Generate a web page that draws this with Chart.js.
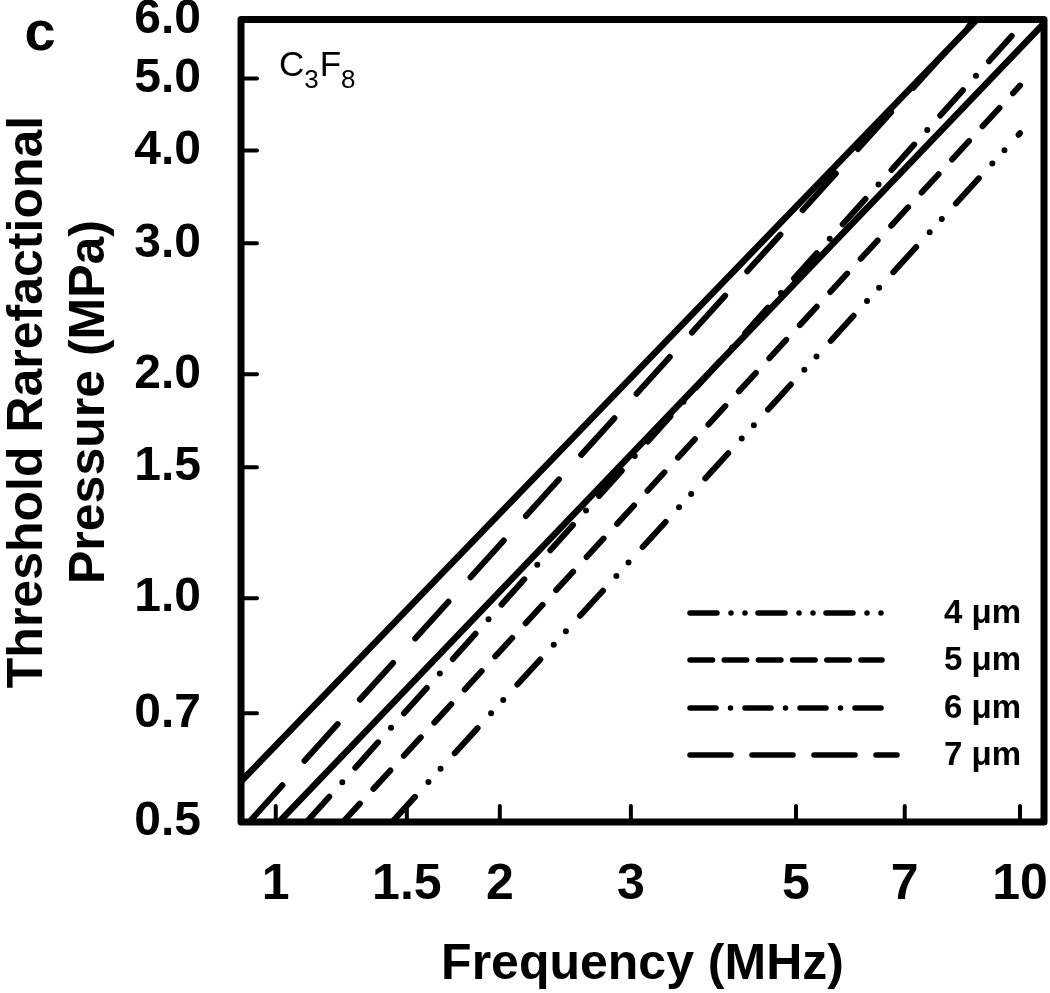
<!DOCTYPE html>
<html>
<head>
<meta charset="utf-8">
<script src="https://cdn.jsdelivr.net/npm/chart.js@4.4.0/dist/chart.umd.min.js"></script>
<style>
    html, body { margin: 0; padding: 0; background: #fff; }
    #wrap { width: 1050px; height: 993px; position: relative; }
</style>
</head>
<body>
<div id="wrap"><canvas id="chart"></canvas></div>
<script>
// Threshold rarefactional pressure vs. frequency for C3F8 bubbles (log-log)
const FONT = '"Liberation Sans", Arial, Helvetica, sans-serif';

const freqTicks = [1, 1.5, 2, 3, 5, 7, 10];
const pressureTicks = [0.5, 0.7, 1.0, 1.5, 2.0, 3.0, 4.0, 5.0, 6.0];

// two unlabelled solid curves
const solidUpperFreq = [0.898, 8.75];
const solidUpperPressure = [0.567, 6.0];
const solidLowerFreq = [1.01, 10.77];
const solidLowerPressure = [0.5, 5.93];

// bubble diameters (legend)
const diameterLabels = ['4 μm', '5 μm', '6 μm', '7 μm'];
const freq4um = [1.433, 10];
const pressure4um = [0.5, 4.22];
const freq5um = [1.231, 10];
const pressure5um = [0.5, 4.89];
const freq6um = [1.10, 10];
const pressure6um = [0.5, 5.87];
const freq7um = [0.921, 8.7];
const pressure7um = [0.5, 6.0];

// line patterns: in the plot and in the legend sample
const PLOT_DASH = {
    '4 μm': [34, 20, 0, 18, 0, 21],
    '5 μm': [25, 20],
    '6 μm': [34, 19.5, 0, 19.5],
    '7 μm': [49.5, 33]
};
const LEGEND_DASH = {
    '4 μm': [27, 14, 0, 14, 0, 13],
    '5 μm': [22.5, 11.7],
    '6 μm': [26, 14.5, 0, 14.5],
    '7 μm': [41, 21]
};

function toPoints(freqs, pressures) {
    return freqs.map((f, i) => ({ x: f, y: pressures[i] }));
}

const diameterData = [
    toPoints(freq4um, pressure4um),
    toPoints(freq5um, pressure5um),
    toPoints(freq6um, pressure6um),
    toPoints(freq7um, pressure7um)
];

const datasets = [
    { label: 'solid upper', data: toPoints(solidUpperFreq, solidUpperPressure), borderWidth: 6.5, borderDash: [] },
    { label: 'solid lower', data: toPoints(solidLowerFreq, solidLowerPressure), borderWidth: 6.5, borderDash: [] },
    ...diameterLabels.map((label, i) => ({
        label,
        data: diameterData[i],
        borderWidth: 6,
        borderDash: PLOT_DASH[label]
    }))
];

const panelDecor = {
    id: 'panelDecor',
    afterDraw(chart) {
        const { ctx, chartArea: a, scales: { x, y } } = chart;
        ctx.save();
        ctx.strokeStyle = '#000';
        ctx.fillStyle = '#000';

        // inward tick marks on left and bottom
        ctx.lineWidth = 4;
        ctx.lineCap = 'round';
        ctx.beginPath();
        pressureTicks.forEach(v => {
            const py = y.getPixelForValue(v);
            if (py > a.top + 5 && py < a.bottom - 5) {
                ctx.moveTo(a.left, py);
                ctx.lineTo(a.left + 16, py);
            }
        });
        freqTicks.forEach(v => {
            const px = x.getPixelForValue(v);
            if (px > a.left + 5 && px < a.right - 5) {
                ctx.moveTo(px, a.bottom);
                ctx.lineTo(px, a.bottom - 16);
            }
        });
        ctx.stroke();

        // frame
        ctx.lineWidth = 7;
        ctx.lineJoin = 'round';
        ctx.strokeRect(a.left, a.top, a.right - a.left, a.bottom - a.top);

        // legend inside the plot
        const legendRows = [613, 660, 708, 755];
        const sampleEnd = [882, 882, 882, 897];
        ctx.lineWidth = 5.5;
        ctx.lineCap = 'round';
        diameterLabels.forEach((label, i) => {
            ctx.setLineDash(LEGEND_DASH[label]);
            ctx.beginPath();
            ctx.moveTo(690, legendRows[i]);
            ctx.lineTo(sampleEnd[i], legendRows[i]);
            ctx.stroke();
        });
        ctx.setLineDash([]);
        ctx.font = 'bold 33px ' + FONT;
        ctx.textAlign = 'left';
        ctx.textBaseline = 'middle';
        diameterLabels.forEach((label, i) => {
            ctx.fillText(label, 944, legendRows[i] + 1);
        });

        // gas annotation C3F8
        ctx.textBaseline = 'alphabetic';
        let cx = 279;
        const parts = [['C', false], ['3', true], ['F', false], ['8', true]];
        parts.forEach(([t, sub]) => {
            ctx.font = (sub ? '26px ' : '35px ') + FONT;
            ctx.fillText(t, cx, sub ? 88 : 76);
            cx += ctx.measureText(t).width + (sub ? 1 : 0);
        });

        // panel letter
        ctx.font = 'bold 56px ' + FONT;
        ctx.textAlign = 'center';
        ctx.fillText('c', 40, 50);

        // y-axis title, two lines rotated
        ctx.font = 'bold 50px ' + FONT;
        ctx.translate(0, 402);
        ctx.rotate(-Math.PI / 2);
        ctx.fillText('Threshold Rarefactional', 0, 42);
        ctx.fillText('Pressure (MPa)', 0, 104);
        ctx.restore();
    }
};

new Chart(document.getElementById('chart'), {
    type: 'line',
    data: { datasets },
    options: {
        responsive: true,
        maintainAspectRatio: false,
        animation: false,
        layout: { padding: { top: 19.5, right: 6, left: 0, bottom: 0 } },
        elements: {
            point: { radius: 0 },
            line: { borderColor: '#000', tension: 0, borderCapStyle: 'round', borderJoinStyle: 'round' }
        },
        plugins: {
            legend: { display: false },
            tooltip: { enabled: false }
        },
        scales: {
            x: {
                type: 'logarithmic',
                min: 0.898,
                max: 10.77,
                afterBuildTicks: s => { s.ticks = freqTicks.map(v => ({ value: v })); },
                afterFit: s => {
                    s.height = 171;
                    s.paddingLeft = 0;
                    s.paddingRight = 0;
                },
                grid: { display: false },
                border: { display: false },
                ticks: {
                    color: '#000',
                    autoSkip: false,
                    maxRotation: 0,
                    padding: 25,
                    font: { family: FONT, size: 50, weight: 'bold', lineHeight: 1.2 },
                    callback: v => String(v)
                },
                title: {
                    display: true,
                    text: 'Frequency (MHz)',
                    color: '#000',
                    padding: 0,
                    font: { family: FONT, size: 50, weight: 'bold', lineHeight: 1.1 }
                }
            },
            y: {
                type: 'logarithmic',
                min: 0.5,
                max: 6.0,
                afterBuildTicks: s => { s.ticks = pressureTicks.map(v => ({ value: v })); },
                afterFit: s => {
                    s.width = 241;
                    s.paddingTop = 0;
                    s.paddingBottom = 0;
                },
                grid: { display: false },
                border: { display: false },
                ticks: {
                    color: '#000',
                    autoSkip: false,
                    padding: 32,
                    font: { family: FONT, size: 48, weight: 'bold', lineHeight: 1.2 },
                    callback: v => Number(v).toFixed(1)
                }
            }
        }
    },
    plugins: [panelDecor]
});
</script>
</body>
</html>
